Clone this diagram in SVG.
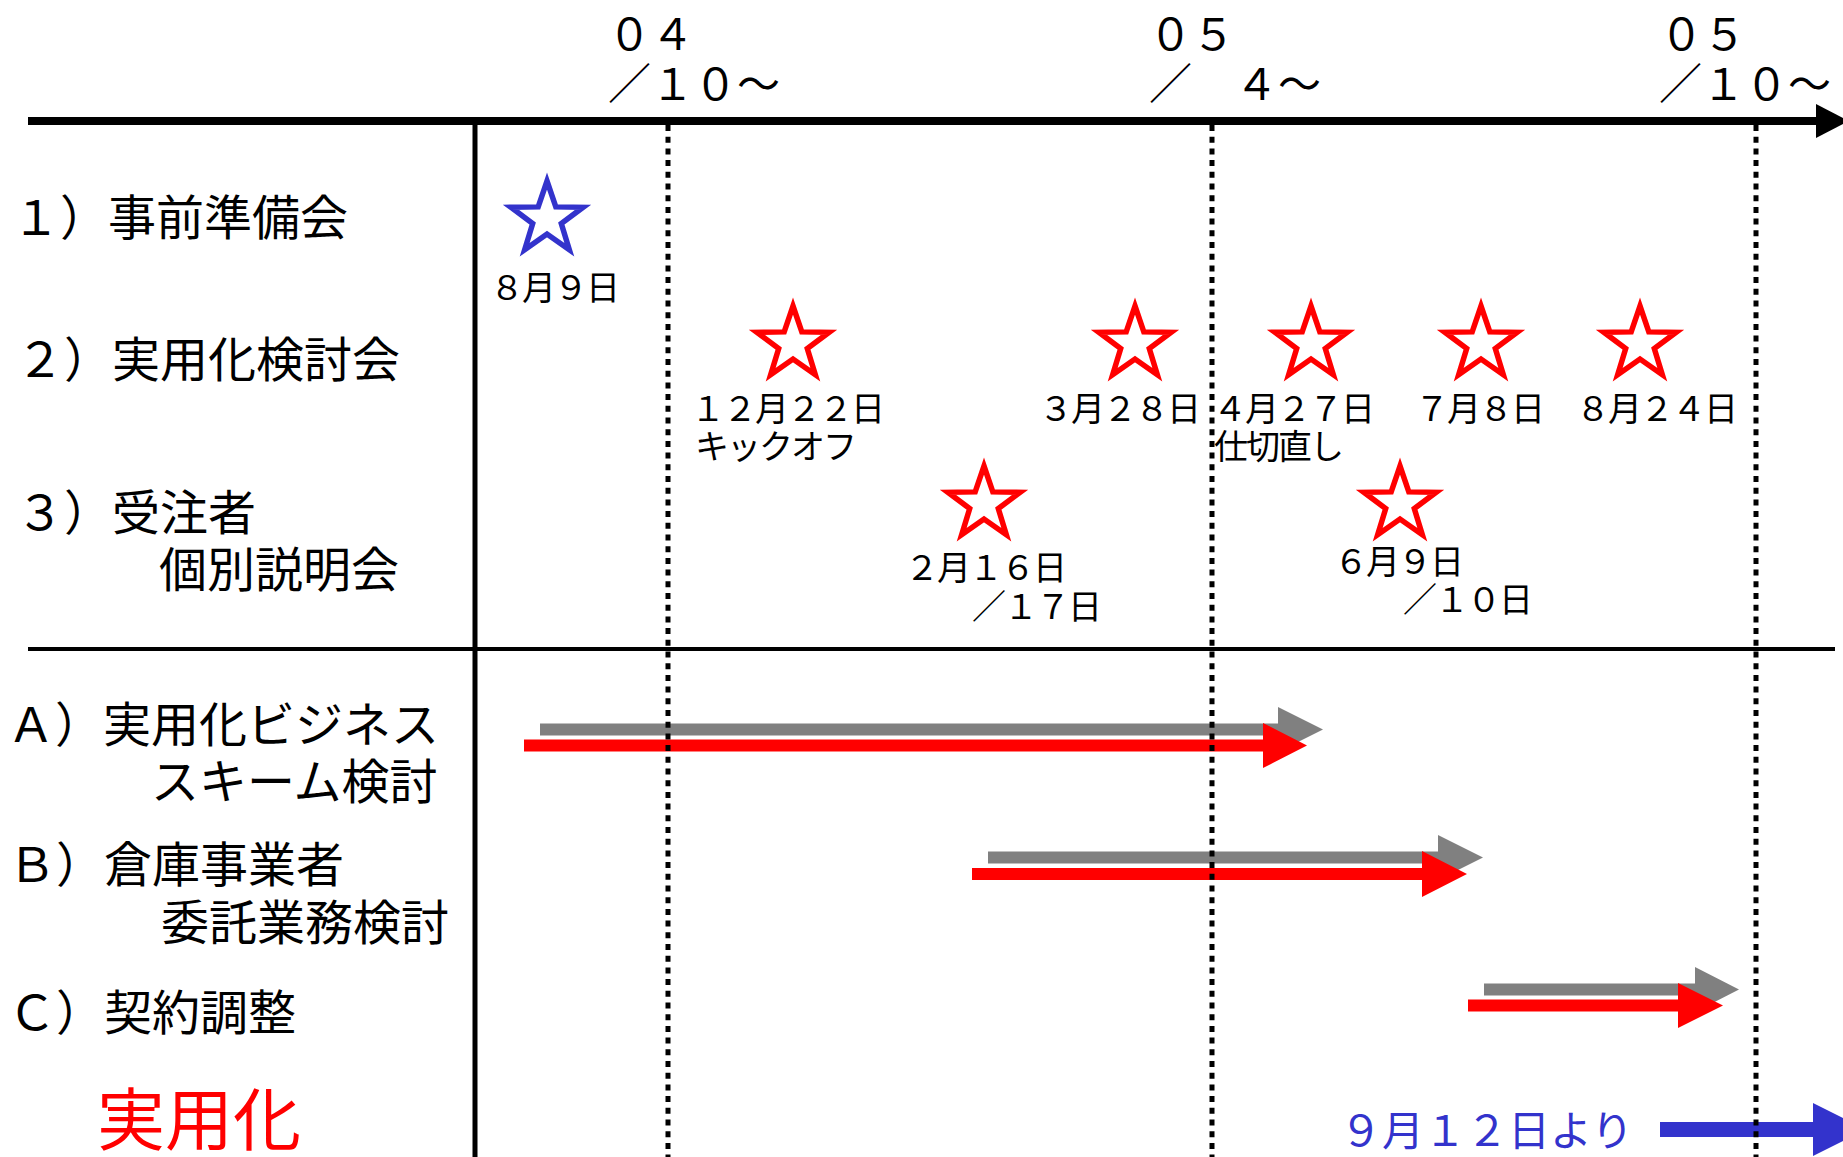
<svg xmlns="http://www.w3.org/2000/svg" width="1843" height="1157" viewBox="0 0 1843 1157">
<style>
text{font-family:"Noto Sans CJK JP","Noto Sans",sans-serif;fill:#000}
.lbl{font-size:48px}
.hdr{font-size:43px}
.dt{font-size:34px;letter-spacing:-2px}
.dot{stroke:#000;stroke-width:5;stroke-dasharray:6 5.7;fill:none}
.gray{fill:#808080}
.red{fill:#FF0000}
.blue{fill:#3333CC}
.starR{fill:#fff;stroke:#FF0000;stroke-width:5.5;stroke-linejoin:miter}
.starB{fill:#fff;stroke:#3333CC;stroke-width:5.5;stroke-linejoin:miter}
</style>
<defs>
<path id="star" d="M0,-38 L8.8,-12.1 L36.1,-11.7 L14.3,4.6 L22.3,30.7 L0,15 L-22.3,30.7 L-14.3,4.6 L-36.1,-11.7 L-8.8,-12.1 Z"/>
</defs>
<rect width="1843" height="1157" fill="#fff"/>

<g id="axis">
<line x1="28" y1="121" x2="1818" y2="121" stroke="#000" stroke-width="8"/>
<polygon points="1816,104 1849,121 1816,138" fill="#000"/>
<line x1="475" y1="121" x2="475" y2="1157" stroke="#000" stroke-width="5"/>
<line x1="28" y1="649" x2="1835" y2="649" stroke="#000" stroke-width="4"/>
</g>

<g id="header">
<text class="hdr" x="608" y="50">０４</text>
<text class="hdr" x="608" y="100">／１０～</text>
<text class="hdr" x="1149" y="50">０５</text>
<text class="hdr" x="1149" y="100">／　４～</text>
<text class="hdr" x="1660" y="50">０５</text>
<text class="hdr" x="1659" y="100">／１０～</text>
</g>

<g id="labels">
<text class="lbl" x="12" y="234.5">１）事前準備会</text>
<text class="lbl" x="16" y="376.5">２）実用化検討会</text>
<text class="lbl" x="16" y="529.5">３）受注者</text>
<text class="lbl" x="159" y="586.5">個別説明会</text>
<text class="lbl" x="7" y="741.5">Ａ）実用化ビジネス</text>
<text class="lbl" x="151" y="798.5">スキーム検討</text>
<text class="lbl" x="8" y="881.5">Ｂ）倉庫事業者</text>
<text class="lbl" x="161" y="939.5">委託業務検討</text>
<text class="lbl" x="8" y="1029.5">Ｃ）契約調整</text>
<text x="97" y="1145" style="font-size:68px;fill:#FF0000">実用化</text>
</g>

<g id="connectors">
<polygon class="gray" points="540,723.5 1278,723.5 1278,707 1323,729.5 1278,752 1278,735.5 540,735.5"/>
<polygon class="red" points="524,739.5 1263,739.5 1263,723 1307,745.5 1263,768 1263,751.5 524,751.5"/>
<polygon class="gray" points="988,851.5 1438,851.5 1438,835 1483,857.5 1438,880 1438,863.5 988,863.5"/>
<polygon class="red" points="972,868 1422,868 1422,851 1467,874 1422,897 1422,880 972,880"/>
<polygon class="gray" points="1484,983.5 1695,983.5 1695,967 1739,989.5 1695,1012 1695,995.5 1484,995.5"/>
<polygon class="red" points="1468,999.5 1678,999.5 1678,983 1723,1005.5 1678,1028 1678,1011.5 1468,1011.5"/>
<polygon class="blue" points="1660,1122 1813,1122 1813,1103 1866,1129.5 1813,1156 1813,1137 1660,1137"/>
</g>

<g id="gridlines">
<line class="dot" x1="668" y1="125" x2="668" y2="1157"/>
<line class="dot" x1="1212" y1="125" x2="1212" y2="1157"/>
<line class="dot" x1="1756" y1="125" x2="1756" y2="1157"/>
</g>

<g id="star-0809"><use href="#star" class="starB" transform="translate(547,219)"/><text class="dt" x="490" y="300">８月９日</text></g>
<g id="star-1222"><use href="#star" class="starR" transform="translate(793,344)"/><text class="dt" x="691" y="421">１２月２２日</text><text class="dt" x="695" y="459">キックオフ</text></g>
<g id="star-0328"><use href="#star" class="starR" transform="translate(1135,344)"/><text class="dt" x="1039" y="421">３月２８日</text></g>
<g id="star-0427"><use href="#star" class="starR" transform="translate(1311,344)"/><text class="dt" x="1213" y="421">４月２７日</text><text class="dt" x="1214" y="459">仕切直し</text></g>
<g id="star-0708"><use href="#star" class="starR" transform="translate(1481,344)"/><text class="dt" x="1415" y="421">７月８日</text></g>
<g id="star-0824"><use href="#star" class="starR" transform="translate(1640,344)"/><text class="dt" x="1576" y="421">８月２４日</text></g>
<g id="star-0216"><use href="#star" class="starR" transform="translate(984,504)"/><text class="dt" x="905" y="580">２月１６日</text><text class="dt" x="972" y="619">／１７日</text></g>
<g id="star-0609"><use href="#star" class="starR" transform="translate(1400,504)"/><text class="dt" x="1334" y="574">６月９日</text><text class="dt" x="1403" y="612">／１０日</text></g>

<g id="start-note"><text x="1340" y="1146" style="font-size:42px;fill:#3333CC">９月１２日より</text></g>
</svg>
